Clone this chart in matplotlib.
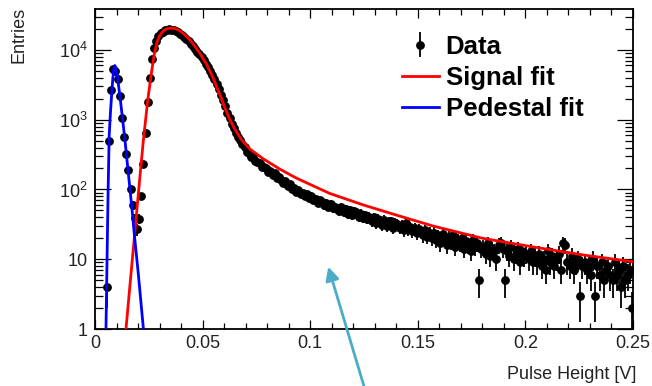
import numpy as np
import matplotlib
matplotlib.use("Agg")
import matplotlib.pyplot as plt
from matplotlib.ticker import FixedLocator, LogLocator, NullFormatter

plt.rcParams['font.family'] = ['Liberation Sans', 'DejaVu Sans']
plt.rcParams['mathtext.fontset'] = 'custom'
plt.rcParams['mathtext.rm'] = 'Liberation Sans'

# histogram: 250 bins between 0 and 0.25 V
pulse_lo, pulse_hi = 0.0, 0.25
entries = [
    0, 0, 0, 0, 0, 4, 500, 2700, 5300, 5000,
    3800, 2200, 1050, 560, 320, 190, 100, 60, 39, 27,
    38, 80, 230, 650, 1800, 4000, 7400, 10800, 13500, 15800,
    17300, 18400, 19100, 19500, 19700, 19600, 19200, 18700, 17900, 17100,
    16200, 15300, 14300, 13300, 12300, 11300, 10400, 9500, 8700, 7900,
    7100, 6400, 5700, 5000, 4400, 3800, 3250, 2750, 2300, 1900,
    1550, 1270, 1050, 880, 750, 650, 570, 505, 455, 410,
    348, 331, 296, 290, 259, 244, 241, 212, 209,
    203, 181, 184, 162, 171, 146, 150, 139, 122, 131, 113, 118, 101, 104, 92,
    97, 86, 90, 80, 85, 76, 82, 71, 74, 64, 70, 67, 59, 65, 57,
    62, 54, 57, 52, 49, 56, 47, 53, 45, 51, 43, 49, 47, 41, 45, 39,
    43, 38, 41, 35, 40, 33, 38, 36, 31, 37, 30, 34, 35, 28, 33,
    32, 28, 31, 26, 33, 27, 29, 25, 28, 24, 27, 25, 22, 26, 21, 24, 20,
    24, 19, 22, 17, 23, 20, 16, 21, 18, 22, 15, 19, 17, 20, 14, 18, 16, 13, 19, 15, 17, 5, 14,
    15, 12, 17, 11, 14, 13, 10, 16, 17, 14, 5, 13, 11, 15, 10, 12, 14, 9, 13, 11, 12, 10, 13, 9,
    11, 9, 12, 8, 10, 7, 13, 9, 11, 8, 10, 12, 7, 17, 16, 9, 8, 11, 7, 9, 10, 3, 8,
    9, 7, 8, 6, 10, 3, 8, 6, 9, 5, 7, 8, 6, 5, 9, 6, 7, 4, 8, 5, 6, 7, 2,
]

# fit curves
signal_x = [0.0144, 0.0165, 0.0186, 0.0205, 0.0224, 0.0245, 0.0263, 0.0275, 0.0287, 0.0300,
            0.0317, 0.0335, 0.0356, 0.0375, 0.0395, 0.0420, 0.0441, 0.0465, 0.0488, 0.0519,
            0.0550, 0.0581, 0.0605, 0.0627, 0.0650, 0.0680, 0.0720, 0.0782, 0.0860, 0.0937,
            0.1090, 0.1247, 0.1400, 0.1570, 0.1800, 0.2037, 0.2270, 0.2500]
signal_y = [1, 5.2, 26, 115, 480, 1900, 4900, 8500, 12500, 16000,
            18700, 20200, 20600, 20200, 18800, 16300, 14000, 11200, 8900, 6200,
            3900, 2250, 1450, 1000, 730, 520, 380, 275, 195, 145,
            88, 60, 43, 30, 20, 15, 11.5, 9.2]

pedestal_x = [0.0051, 0.0056, 0.0061, 0.0066, 0.0072, 0.0077, 0.0083, 0.0088, 0.0092, 0.0097,
              0.0105, 0.0116, 0.0127, 0.0139, 0.0155, 0.0171, 0.0186, 0.0201, 0.0213, 0.0225]
pedestal_y = [1, 10, 100, 600, 1300, 2200, 4000, 5500, 6000, 5500,
              4000, 2150, 1100, 515, 170, 56, 18, 6.3, 2.5, 1]

x_ticks = [0, 0.05, 0.1, 0.15, 0.2, 0.25]
x_tick_labels = ['0', '0.05', '0.1', '0.15', '0.2', '0.25']
y_ticks = [1, 10, 100, 1000, 10000]
y_tick_labels = ['1', '10', r'$10^{2}$', r'$10^{3}$', r'$10^{4}$']

fig = plt.figure(figsize=(6.52, 3.86), dpi=100)
ax = fig.add_axes([95 / 652, 57 / 386, 538 / 652, 320 / 386])

counts = np.array(entries, dtype=float)
width = (pulse_hi - pulse_lo) / len(counts)
centers = pulse_lo + (np.arange(len(counts)) + 0.5) * width
ok = counts > 0

eb = ax.errorbar(centers[ok], counts[ok], yerr=np.sqrt(counts[ok]), fmt='o', color='black',
                 ms=5.3, elinewidth=1.3, capsize=0, zorder=2)
sig, = ax.plot(signal_x, signal_y, color='#ff0000', lw=2, zorder=3)
ped, = ax.plot(pedestal_x, pedestal_y, color='#0000ff', lw=2, zorder=3)

ax.set_yscale('log')
ax.set_xlim(pulse_lo, pulse_hi)
ax.set_ylim(1, 3.87e4)

ax.set_xticks(x_ticks)
ax.set_xticklabels(x_tick_labels)
ax.xaxis.set_minor_locator(FixedLocator(np.arange(0, 0.2501, 0.01)))
ax.set_yticks(y_ticks)
ax.set_yticklabels(y_tick_labels)
ax.yaxis.set_minor_locator(LogLocator(base=10, subs=np.arange(2, 10)))
ax.yaxis.set_minor_formatter(NullFormatter())

ax.tick_params(which='both', direction='in', top=True, right=True, width=0.9, labelcolor='#222222')
ax.tick_params(axis='x', which='major', length=6.8, pad=4, labelsize=13)
ax.tick_params(axis='x', which='minor', length=4)
ax.tick_params(axis='y', which='major', length=11.5, pad=5.5, labelsize=13)
ax.tick_params(axis='y', which='minor', length=5.8)
for s in ax.spines.values():
    s.set_linewidth(1.3)

fig.text(0.029, 0.982, 'Entries', rotation=90, ha='center', va='top', fontsize=13, color='#222222')
fig.text(0.9755, 0.0285, 'Pulse Height [V]', ha='right', va='center', fontsize=13, color='#222222')

ax.legend([eb, sig, ped], ['Data', 'Signal fit', 'Pedestal fit'], loc='upper left',
          bbox_to_anchor=(0.57, 0.92), frameon=False, prop={'weight': 'bold', 'size': 18.5},
          handlelength=1.44, handletextpad=0.27, labelspacing=0.28, borderpad=0, borderaxespad=0)

# teal arrow pointing at the tail
ax.annotate('', xy=(0.1084, 7.8), xycoords='data', xytext=(364.5 / 652, -2 / 386),
            textcoords='figure fraction', annotation_clip=False,
            arrowprops=dict(arrowstyle='-|>', color='#4BACC6', lw=2, mutation_scale=20,
                            shrinkA=0, shrinkB=0))

fig.savefig('out.png', dpi=100)
